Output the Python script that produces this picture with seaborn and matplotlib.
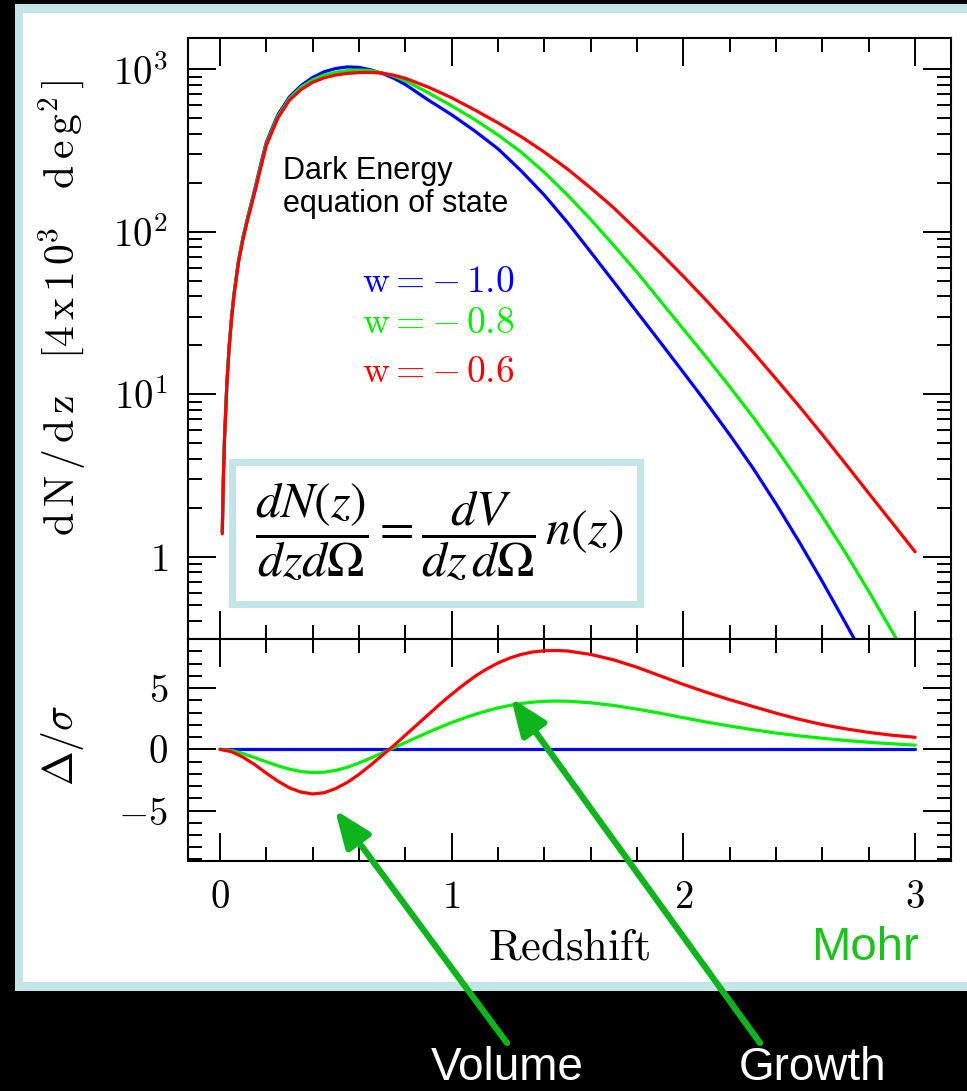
import numpy as np
import pandas as pd
import matplotlib
matplotlib.use("Agg")
import matplotlib.pyplot as plt
import seaborn as sns
from matplotlib.patches import Rectangle, FancyArrowPatch
from matplotlib.ticker import FixedLocator, FixedFormatter, MultipleLocator, NullFormatter

# ---------------- data ----------------
z_top = [0.01, 0.015, 0.02, 0.03, 0.04, 0.05, 0.06, 0.08, 0.1, 0.12, 0.15, 0.18, 0.2, 0.25,
         0.3, 0.35, 0.4, 0.45, 0.5, 0.55, 0.6, 0.65, 0.7, 0.75, 0.8, 0.9, 1.0, 1.1, 1.2, 1.3,
         1.4, 1.5, 1.6, 1.7, 1.8, 1.9, 2.0, 2.1, 2.2, 2.3, 2.4, 2.5, 2.6, 2.7, 2.8, 2.9, 3.0]

dndz_w10 = [1.41, 3.16, 5.50, 11.7, 20.0, 29.5, 40.7, 66.1, 93.3, 123, 182, 275, 355, 525,
            676, 794, 891, 966, 1012, 1035, 1028, 993, 944, 881, 807, 646, 525, 417, 324, 237,
            168, 114, 75.0, 49.0, 32.0, 20.9, 13.6, 8.81, 5.62, 3.51, 2.11, 1.23, 0.700, 0.389, 0.214]
dndz_w08 = [1.41, 3.16, 5.50, 11.7, 20.0, 29.5, 40.7, 66.1, 92.3, 122, 178, 269, 347, 513,
            661, 776, 861, 923, 959, 982, 991, 982, 951, 908, 851, 716, 596, 490, 394, 309,
            232, 168, 119, 82.2, 56.2, 37.6, 25.1, 16.8, 11.1, 7.24, 4.62, 2.88, 1.76, 1.05, 0.610,
            0.347, 0.195]
dndz_w06 = [1.38, 3.09, 5.37, 11.5, 19.5, 28.8, 39.8, 64.6, 90.2, 119, 174, 260, 339, 501,
            646, 750, 832, 887, 923, 944, 955, 957, 948, 920, 881, 776, 668, 562, 468, 385,
            309, 243, 186, 140, 102, 74.1, 53.1, 37.6, 26.3, 18.2, 12.4, 8.41, 5.62, 3.72, 2.45,
            1.62, 1.07]

z_bot = [0.0, 0.05, 0.1, 0.15, 0.2, 0.25, 0.3, 0.35, 0.4, 0.45, 0.5, 0.55, 0.6, 0.65, 0.7,
         0.75, 0.8, 0.85, 0.9, 0.95, 1.0, 1.05, 1.1, 1.15, 1.2, 1.25, 1.3, 1.35, 1.4, 1.45, 1.5,
         1.6, 1.7, 1.8, 1.9, 2.0, 2.1, 2.2, 2.3, 2.4, 2.5, 2.6, 2.7, 2.8, 2.9, 3.0]
delta_w10 = [0, 0, 0, 0, 0, 0, 0, 0, 0, 0, 0, 0, 0, 0, 0,
             0, 0, 0, 0, 0, 0, 0, 0, 0, 0, 0, 0, 0, 0, 0, 0,
             0, 0, 0, 0, 0, 0, 0, 0, 0, 0, 0, 0, 0, 0, 0]
delta_w08 = [0, -0.1, -0.35, -0.68, -1.02, -1.35, -1.62, -1.82, -1.9, -1.87, -1.72, -1.47, -1.12,
             -0.72, -0.3, 0.12, 0.55, 0.98, 1.4, 1.8, 2.18, 2.53, 2.85, 3.13, 3.38, 3.58, 3.74,
             3.85, 3.92, 3.94, 3.93,
             3.8, 3.58, 3.28, 2.95, 2.58, 2.22, 1.9, 1.6, 1.33, 1.1, 0.9, 0.72, 0.57, 0.45, 0.34]
delta_w06 = [0, -0.2, -0.65, -1.25, -1.95, -2.6, -3.15, -3.5, -3.65, -3.55, -3.2, -2.7, -2.05,
             -1.3, -0.5, 0.3, 1.15, 2.0, 2.85, 3.7, 4.5, 5.25, 5.95, 6.55, 7.05, 7.45, 7.75,
             7.95, 8.05, 8.07, 8.03,
             7.75, 7.3, 6.7, 6.0, 5.3, 4.65, 4.05, 3.5, 2.95, 2.45, 2.02, 1.67, 1.38, 1.15, 0.98]

series_names = ["w=-1.0", "w=-0.8", "w=-0.6"]
series_labels = [r"$\mathrm{w}=-\,1.0$", r"$\mathrm{w}=-\,0.8$", r"$\mathrm{w}=-\,0.6$"]
series_colors = ["#0000ff", "#00f000", "#ff0000"]

x_ticks = [0, 1, 2, 3]
x_ticklabels = ["$0$", "$1$", "$2$", "$3$"]
ytop_ticks = [1, 10, 100, 1000]
ytop_ticklabels = ["$1$", "$10^1$", "$10^2$", "$10^3$"]
ybot_ticks = [-5, 0, 5]
ybot_ticklabels = ["$-5$", "$0$", "$5$"]

# ---------------- style ----------------
W, H = 967, 1091
sns.set_theme(style="white")
plt.rcParams["font.family"] = ["Liberation Sans", "DejaVu Sans"]
plt.rcParams["mathtext.fontset"] = "cm"

fig = plt.figure(figsize=(W / 100, H / 100), dpi=100)
fig.patch.set_facecolor("black")


def fx(x):
    return x / W


def fy(y):
    return 1 - y / H


# light-blue framed white panel
fig.add_artist(Rectangle((fx(15), fy(991)), fx(990) - fx(15), fy(4) - fy(991),
                         transform=fig.transFigure, facecolor="#c4e5e8", edgecolor="none", zorder=-3))
fig.add_artist(Rectangle((fx(23), fy(982)), fx(990) - fx(23), fy(13) - fy(982),
                         transform=fig.transFigure, facecolor="white", edgecolor="none", zorder=-2))

L, R = 187.5, 951.0
T1, B1, B2 = 37.5, 639.0, 860.7
ax1 = fig.add_axes([fx(L), fy(B1), fx(R) - fx(L), fy(T1) - fy(B1)])
ax2 = fig.add_axes([fx(L), fy(B2), fx(R) - fx(L), fy(B1) - fy(B2)])

palette = dict(zip(series_names, series_colors))

top_df = pd.concat([
    pd.DataFrame({"z": z_top[:len(dndz_w10)], "v": dndz_w10, "w": series_names[0]}),
    pd.DataFrame({"z": z_top[:len(dndz_w08)], "v": dndz_w08, "w": series_names[1]}),
    pd.DataFrame({"z": z_top[:len(dndz_w06)], "v": dndz_w06, "w": series_names[2]}),
], ignore_index=True)
bot_df = pd.concat([
    pd.DataFrame({"z": z_bot, "v": delta_w10, "w": series_names[0]}),
    pd.DataFrame({"z": z_bot, "v": delta_w08, "w": series_names[1]}),
    pd.DataFrame({"z": z_bot, "v": delta_w06, "w": series_names[2]}),
], ignore_index=True)

sns.lineplot(data=top_df, x="z", y="v", hue="w", hue_order=series_names, palette=palette,
             estimator=None, legend=False, linewidth=2.3, ax=ax1)
sns.lineplot(data=bot_df, x="z", y="v", hue="w", hue_order=series_names, palette=palette,
             estimator=None, legend=False, linewidth=2.3, ax=ax2)

ax1.set_yscale("log")
ax1.set_ylim(10 ** -0.508, 10 ** 3.196)
ax2.set_ylim(-9.1, 9.01)
for ax in (ax1, ax2):
    ax.set_xlim(-0.14, 3.155)
    ax.set_facecolor("white")
    for s in ax.spines.values():
        s.set_color("black")
        s.set_linewidth(1.5)
    ax.xaxis.set_major_locator(FixedLocator(x_ticks))
    ax.xaxis.set_minor_locator(MultipleLocator(0.2))
    ax.tick_params(which="both", direction="in", top=True, right=True, bottom=True, left=True,
                   color="black", width=1.4, labelsize=28, pad=14, labelcolor="black")
    ax.tick_params(which="major", length=20)
    ax.tick_params(which="minor", length=10)
    ax.set_xlabel("")
    ax.set_ylabel("")

ax1.yaxis.set_major_locator(FixedLocator(ytop_ticks))
ax1.yaxis.set_major_formatter(FixedFormatter(ytop_ticklabels))
ax1.yaxis.set_minor_locator(FixedLocator([m * d for d in (0.1, 1, 10, 100, 1000) for m in range(2, 10)]))
ax1.yaxis.set_minor_formatter(NullFormatter())
ax1.tick_params(labelbottom=False)

ax2.yaxis.set_major_locator(FixedLocator(ybot_ticks))
ax2.yaxis.set_major_formatter(FixedFormatter(ybot_ticklabels))
ax2.yaxis.set_minor_locator(MultipleLocator(1))
ax2.xaxis.set_major_formatter(FixedFormatter(x_ticklabels))

ax1.set_ylabel(r"$\mathrm{d\,N\,/\,d\,z\ \ \ [4\,x\,1\,0^{3}\ \ \ d\,e\,g^{2}\,]}$", fontsize=30,
               va="center", color="black")
ax1.yaxis.set_label_coords((62 - L) / (R - L), (B1 - 308) / (B1 - T1))
ax2.set_ylabel(r"$\Delta/\sigma$", fontsize=30, va="center", color="black")
ax2.yaxis.set_label_coords((62 - L) / (R - L), (B2 - 745) / (B2 - B1))
ax2.set_xlabel(r"$\mathrm{Redshift}$", fontsize=32, va="baseline", color="black")
ax2.xaxis.set_label_coords(0.5, (B2 - 960) / (B2 - B1))

# annotations
fig.text(fx(283), fy(156), "Dark Energy\nequation of state", fontsize=22, color="black",
         ha="left", va="top", linespacing=1.15)
for lab, col, yb in zip(series_labels, series_colors, (292, 333, 382)):
    fig.text(fx(362), fy(yb), lab, fontsize=27, color=col, ha="left", va="baseline")

# equation box
fig.add_artist(Rectangle((fx(231.5), fy(603.5)), fx(639.5) - fx(231.5), fy(461.5) - fy(603.5),
                         transform=fig.transFigure, facecolor="white", edgecolor="#c4e5e8",
                         linewidth=5, zorder=3))
fig.text(fx(439), fy(531),
         r"$\dfrac{dN(z)}{dz d\Omega}=\dfrac{dV}{dz\,d\Omega}\,n\left(z\right)$",
         fontsize=36, math_fontfamily="stix", ha="center", va="center", zorder=4, color="black")

# Mohr credit
fig.text(fx(865), fy(960), "Mohr", fontsize=34, color="#1ec21e", ha="center", va="baseline")

# arrows and their labels
arrow_green = "#0db41c"
for (x0, y0), (x1, y1) in [((507, 1043), (335, 810)), ((760, 1043), (511, 698))]:
    fig.add_artist(FancyArrowPatch((fx(x0), fy(y0)), (fx(x1), fy(y1)), transform=fig.transFigure,
                                   arrowstyle="-|>,head_length=0.75,head_width=0.3",
                                   mutation_scale=30, linewidth=4.5, color=arrow_green,
                                   shrinkA=0, shrinkB=0, zorder=10))
fig.text(fx(507), fy(1080), "Volume", fontsize=33, color="white", ha="center", va="baseline")
fig.text(fx(813), fy(1080), "Growth", fontsize=33, color="white", ha="center", va="baseline")

fig.savefig("out.png", dpi=100, facecolor=fig.get_facecolor())
